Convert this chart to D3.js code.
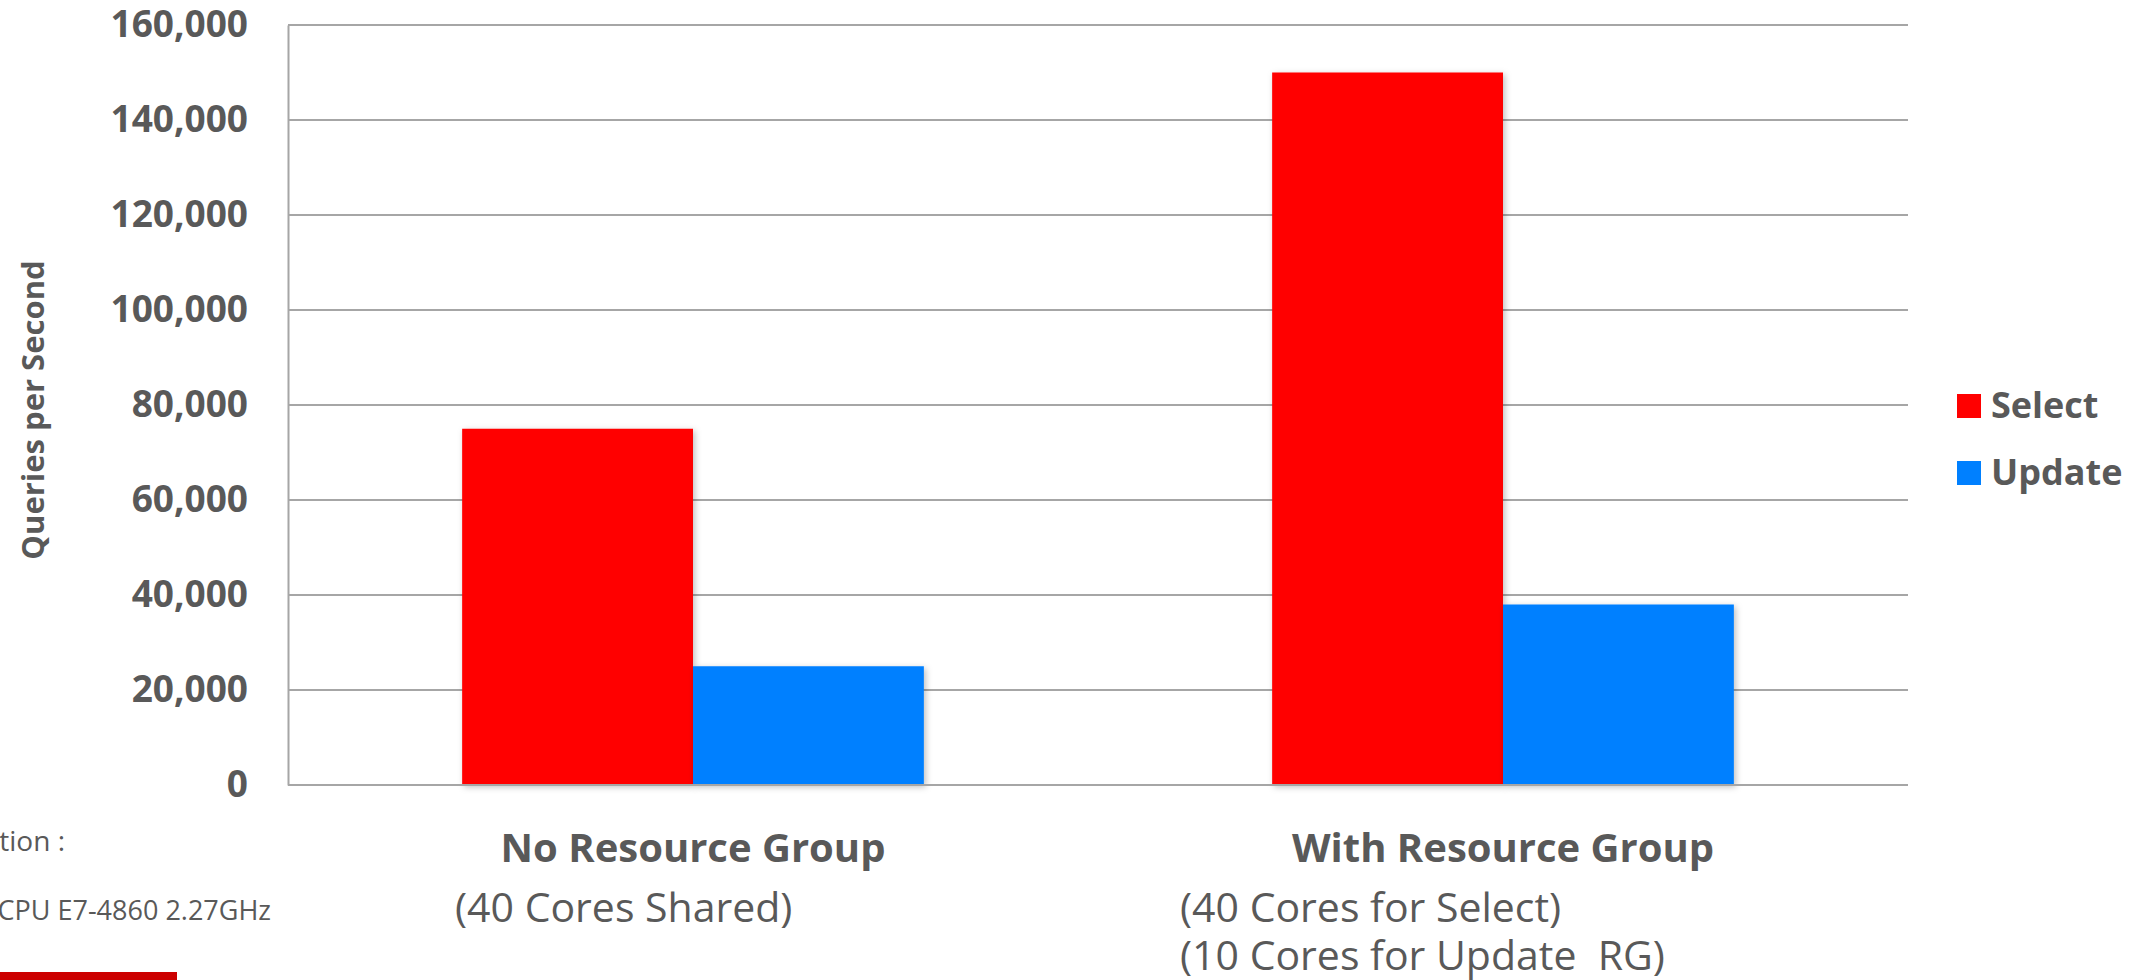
<!DOCTYPE html>
<html>
<head>
<meta charset="utf-8">
<script src="https://cdn.jsdelivr.net/npm/d3@7"></script>
<style>
  html, body { margin: 0; padding: 0; background: #fff; }
  svg { display: block; font-family: "Open Sans", "Noto Sans", sans-serif; }
</style>
</head>
<body>
<svg id="chart" width="2148" height="980"></svg>
<script>
const categories = ['No Resource Group', 'With Resource Group'];
const subLabels = [['(40 Cores Shared)'], ['(40 Cores for Select)', '(10 Cores for Update  RG)']];
const seriesNames = ['Select', 'Update'];
const selectValues = [75000, 150000];
const updateValues = [25000, 38000];
const yTicks = [0, 20000, 40000, 60000, 80000, 100000, 120000, 140000, 160000];
const colors = ['#ff0000', '#0080ff'];

const margin = { top: 25, right: 240, bottom: 195, left: 288 };
const W = 2148, H = 980;
const width = W - margin.left - margin.right;
const height = H - margin.top - margin.bottom;
const textColor = '#595959';
const gridColor = '#a6a6a6';

const svg = d3.select('#chart');

const defs = svg.append('defs');
const shadow = defs.append('filter').attr('id', 'barShadow')
    .attr('x', '-10%').attr('y', '-10%').attr('width', '130%').attr('height', '130%');
shadow.append('feDropShadow')
    .attr('dx', 2).attr('dy', 2).attr('stdDeviation', 3)
    .attr('flood-color', '#000').attr('flood-opacity', 0.25);

const g = svg.append('g').attr('transform', `translate(${margin.left},${margin.top})`);

const x0 = d3.scaleBand().domain(categories).range([0, width])
    .paddingInner(0.43).paddingOuter(0.215);
const x1 = d3.scaleBand().domain(seriesNames).range([0, x0.bandwidth()]);
const y = d3.scaleLinear().domain([0, 160000]).range([height, 0]);

// gridlines
g.append('g')
    .selectAll('line')
    .data(yTicks)
    .enter()
    .append('line')
    .attr('x1', 0).attr('x2', width)
    .attr('y1', d => y(d)).attr('y2', d => y(d))
    .attr('stroke', gridColor).attr('stroke-width', 2);

// y axis labels
const yAxis = g.append('g')
    .call(d3.axisLeft(y).tickValues(yTicks).tickFormat(d3.format(',')).tickSize(0).tickPadding(40));
yAxis.select('.domain').attr('stroke', gridColor).attr('stroke-width', 2);
yAxis.selectAll('text')
    .attr('fill', textColor)
    .style('font-size', '37px')
    .style('font-weight', 700)
    .style('font-family', '"Open Sans", sans-serif');

// bars
const rows = categories.map((c, i) => ({ cat: c, vals: [selectValues[i], updateValues[i]] }));
const groups = g.selectAll('.grp')
    .data(rows)
    .enter()
    .append('g')
    .attr('class', 'grp')
    .attr('transform', d => `translate(${x0(d.cat)},0)`);

groups.selectAll('rect')
    .data(d => d.vals.map((v, k) => ({ key: seriesNames[k], value: v, k })))
    .enter()
    .append('rect')
    .attr('x', d => x1(d.key))
    .attr('y', d => y(d.value))
    .attr('width', x1.bandwidth())
    .attr('height', d => height - y(d.value))
    .attr('fill', d => colors[d.k])
    .attr('filter', 'url(#barShadow)');

// bottom axis line
g.append('line')
    .attr('x1', 0).attr('x2', width)
    .attr('y1', height).attr('y2', height)
    .attr('stroke', gridColor).attr('stroke-width', 2);

// category labels
categories.forEach((c, i) => {
    const cx = x0(c) + x0.bandwidth() / 2;
    g.append('text')
        .attr('x', cx).attr('y', height + 77)
        .attr('text-anchor', 'middle')
        .attr('fill', textColor)
        .style('font-size', '40px').style('font-weight', 700)
        .text(c);
});

// sub labels (left aligned text boxes)
const subX = [455, 1180];
subLabels.forEach((lines, i) => {
    lines.forEach((t, j) => {
        svg.append('text')
            .attr('x', subX[i]).attr('y', 922 + j * 48)
            .attr('fill', textColor)
            .style('font-size', '41px').style('font-weight', 400)
            .style('white-space', 'pre')
            .text(t);
    });
});

// y axis title
svg.append('text')
    .attr('transform', `translate(44,410) rotate(-90)`)
    .attr('text-anchor', 'middle')
    .attr('fill', textColor)
    .style('font-size', '31px').style('font-weight', 700)
    .text('Queries per Second');

// legend
const legend = svg.append('g').attr('transform', 'translate(1957,0)');
const legendY = [394, 461];
seriesNames.forEach((s, i) => {
    legend.append('rect')
        .attr('x', 0).attr('y', legendY[i])
        .attr('width', 24).attr('height', 24)
        .attr('fill', colors[i]);
    legend.append('text')
        .attr('x', 34).attr('y', legendY[i] + 24)
        .attr('fill', textColor)
        .style('font-size', '36px').style('font-weight', 700)
        .text(s);
});

// clipped slide notes at bottom-left
svg.append('text')
    .attr('x', 65).attr('y', 851)
    .attr('text-anchor', 'end')
    .attr('fill', textColor)
    .style('font-size', '28px')
    .text('tion :');
svg.append('text')
    .attr('x', 271).attr('y', 920)
    .attr('text-anchor', 'end')
    .attr('fill', textColor)
    .style('font-size', '27px')
    .text('CPU E7-4860 2.27GHz');

// footer bar
svg.append('rect')
    .attr('x', 0).attr('y', 972).attr('width', 177).attr('height', 8)
    .attr('fill', '#cc0000');
</script>
</body>
</html>
